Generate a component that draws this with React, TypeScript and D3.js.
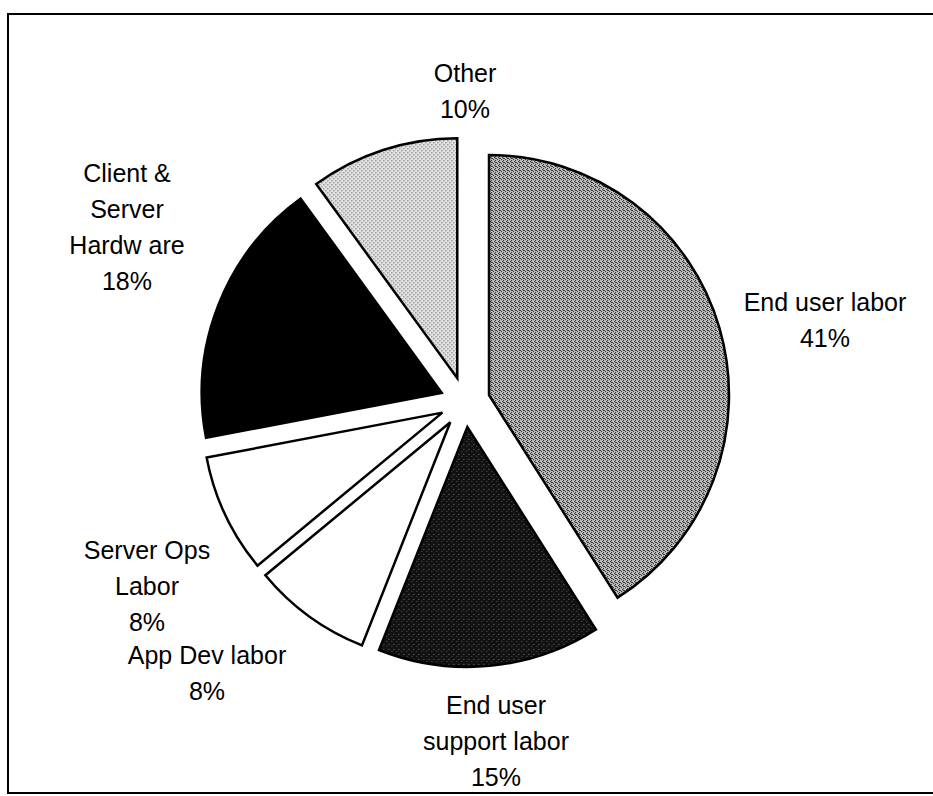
import React, { useEffect, useRef } from 'react';
import * as d3 from 'd3';

// Slice data, clockwise from 12 o'clock
const categories = ['End user labor', 'End user support labor', 'App Dev labor', 'Server Ops Labor', 'Client & Server Hardware', 'Other'];
const shares = [41, 15, 8, 8, 18, 10];
// label text as printed in the chart (one entry per line, last line is the percentage)
const labelLines = [
  ['End user labor'],
  ['End user', 'support labor'],
  ['App Dev labor'],
  ['Server Ops', 'Labor'],
  ['Client &', 'Server', 'Hardw are'],
  ['Other'],
];

const W = 933;
const H = 796;
const CX = 465;
const CY = 402;
const R = 240;
const EXPLODE = 25;
const LINE_H = 36;

// label anchor (center x, first line center y)
const labelAnchor: [number, number][] = [
  [825, 302],
  [496, 705],
  [207, 655],
  [147, 550],
  [127, 173],
  [465, 73],
];

const fills = ['url(#patDense)', 'url(#patDark)', '#ffffff', '#ffffff', '#000000', 'url(#patLight)'];

const App: React.FC = () => {
  const svgRef = useRef<SVGSVGElement>(null);

  useEffect(() => {
    if (!svgRef.current) return;
    const svg = d3.select(svgRef.current);
    svg.selectAll('*').remove();

    const defs = svg.append('defs');

    // light dotted texture (Other)
    const light = defs.append('pattern').attr('id', 'patLight')
      .attr('patternUnits', 'userSpaceOnUse').attr('width', 4).attr('height', 4);
    light.append('rect').attr('width', 4).attr('height', 4).attr('fill', '#e6e6e6');
    light.append('rect').attr('x', 0).attr('y', 0).attr('width', 1.2).attr('height', 1.2).attr('fill', '#666');
    light.append('rect').attr('x', 2).attr('y', 2).attr('width', 1.2).attr('height', 1.2).attr('fill', '#666');

    // dense gray texture (End user labor)
    const dense = defs.append('pattern').attr('id', 'patDense')
      .attr('patternUnits', 'userSpaceOnUse').attr('width', 4).attr('height', 4);
    dense.append('rect').attr('width', 4).attr('height', 4).attr('fill', '#c4c4c4');
    [[0, 0], [2, 1], [1, 2], [3, 3], [2, 3]].forEach(([x, y]) => {
      dense.append('rect').attr('x', x).attr('y', y).attr('width', 1.1).attr('height', 1.1).attr('fill', '#333');
    });

    // dark speckled texture (End user support labor)
    const dark = defs.append('pattern').attr('id', 'patDark')
      .attr('patternUnits', 'userSpaceOnUse').attr('width', 5).attr('height', 5);
    dark.append('rect').attr('width', 5).attr('height', 5).attr('fill', '#111');
    dark.append('rect').attr('x', 1).attr('y', 2).attr('width', 1).attr('height', 1).attr('fill', '#777');
    dark.append('rect').attr('x', 4).attr('y', 4).attr('width', 1).attr('height', 1).attr('fill', '#555');

    // frame
    svg.append('rect')
      .attr('x', 8).attr('y', 14).attr('width', W).attr('height', 779)
      .attr('fill', 'none').attr('stroke', '#000').attr('stroke-width', 2);

    const pie = d3.pie<number>().sort(null).value(d => d);
    const arcs = pie(shares);
    const arc = d3.arc<d3.PieArcDatum<number>>().innerRadius(0).outerRadius(R);

    const g = svg.append('g').attr('transform', `translate(${CX},${CY})`);

    g.selectAll('path')
      .data(arcs)
      .join('path')
      .attr('transform', d => {
        const mid = (d.startAngle + d.endAngle) / 2;
        return `translate(${Math.sin(mid) * EXPLODE},${-Math.cos(mid) * EXPLODE})`;
      })
      .attr('d', arc)
      .attr('fill', (d, i) => fills[i])
      .attr('stroke', '#000')
      .attr('stroke-width', 2.5)
      .attr('stroke-linejoin', 'miter');

    // labels
    const labels = svg.append('g')
      .attr('font-family', 'Liberation Sans, Arial, sans-serif')
      .attr('font-size', 25)
      .attr('fill', '#000')
      .attr('text-anchor', 'middle');

    arcs.forEach((d, i) => {
      const lines = [...labelLines[i], `${shares[i]}%`];
      const [lx, ly] = labelAnchor[i];
      lines.forEach((t, j) => {
        labels.append('text')
          .attr('x', lx)
          .attr('y', ly + j * LINE_H)
          .attr('dy', '0.36em')
          .text(t);
      });
    });
  }, []);

  return (
    <svg
      ref={svgRef}
      width={W}
      height={H}
      style={{ position: 'absolute', left: 0, top: 0, background: '#fff' }}
    />
  );
};

export default App;
